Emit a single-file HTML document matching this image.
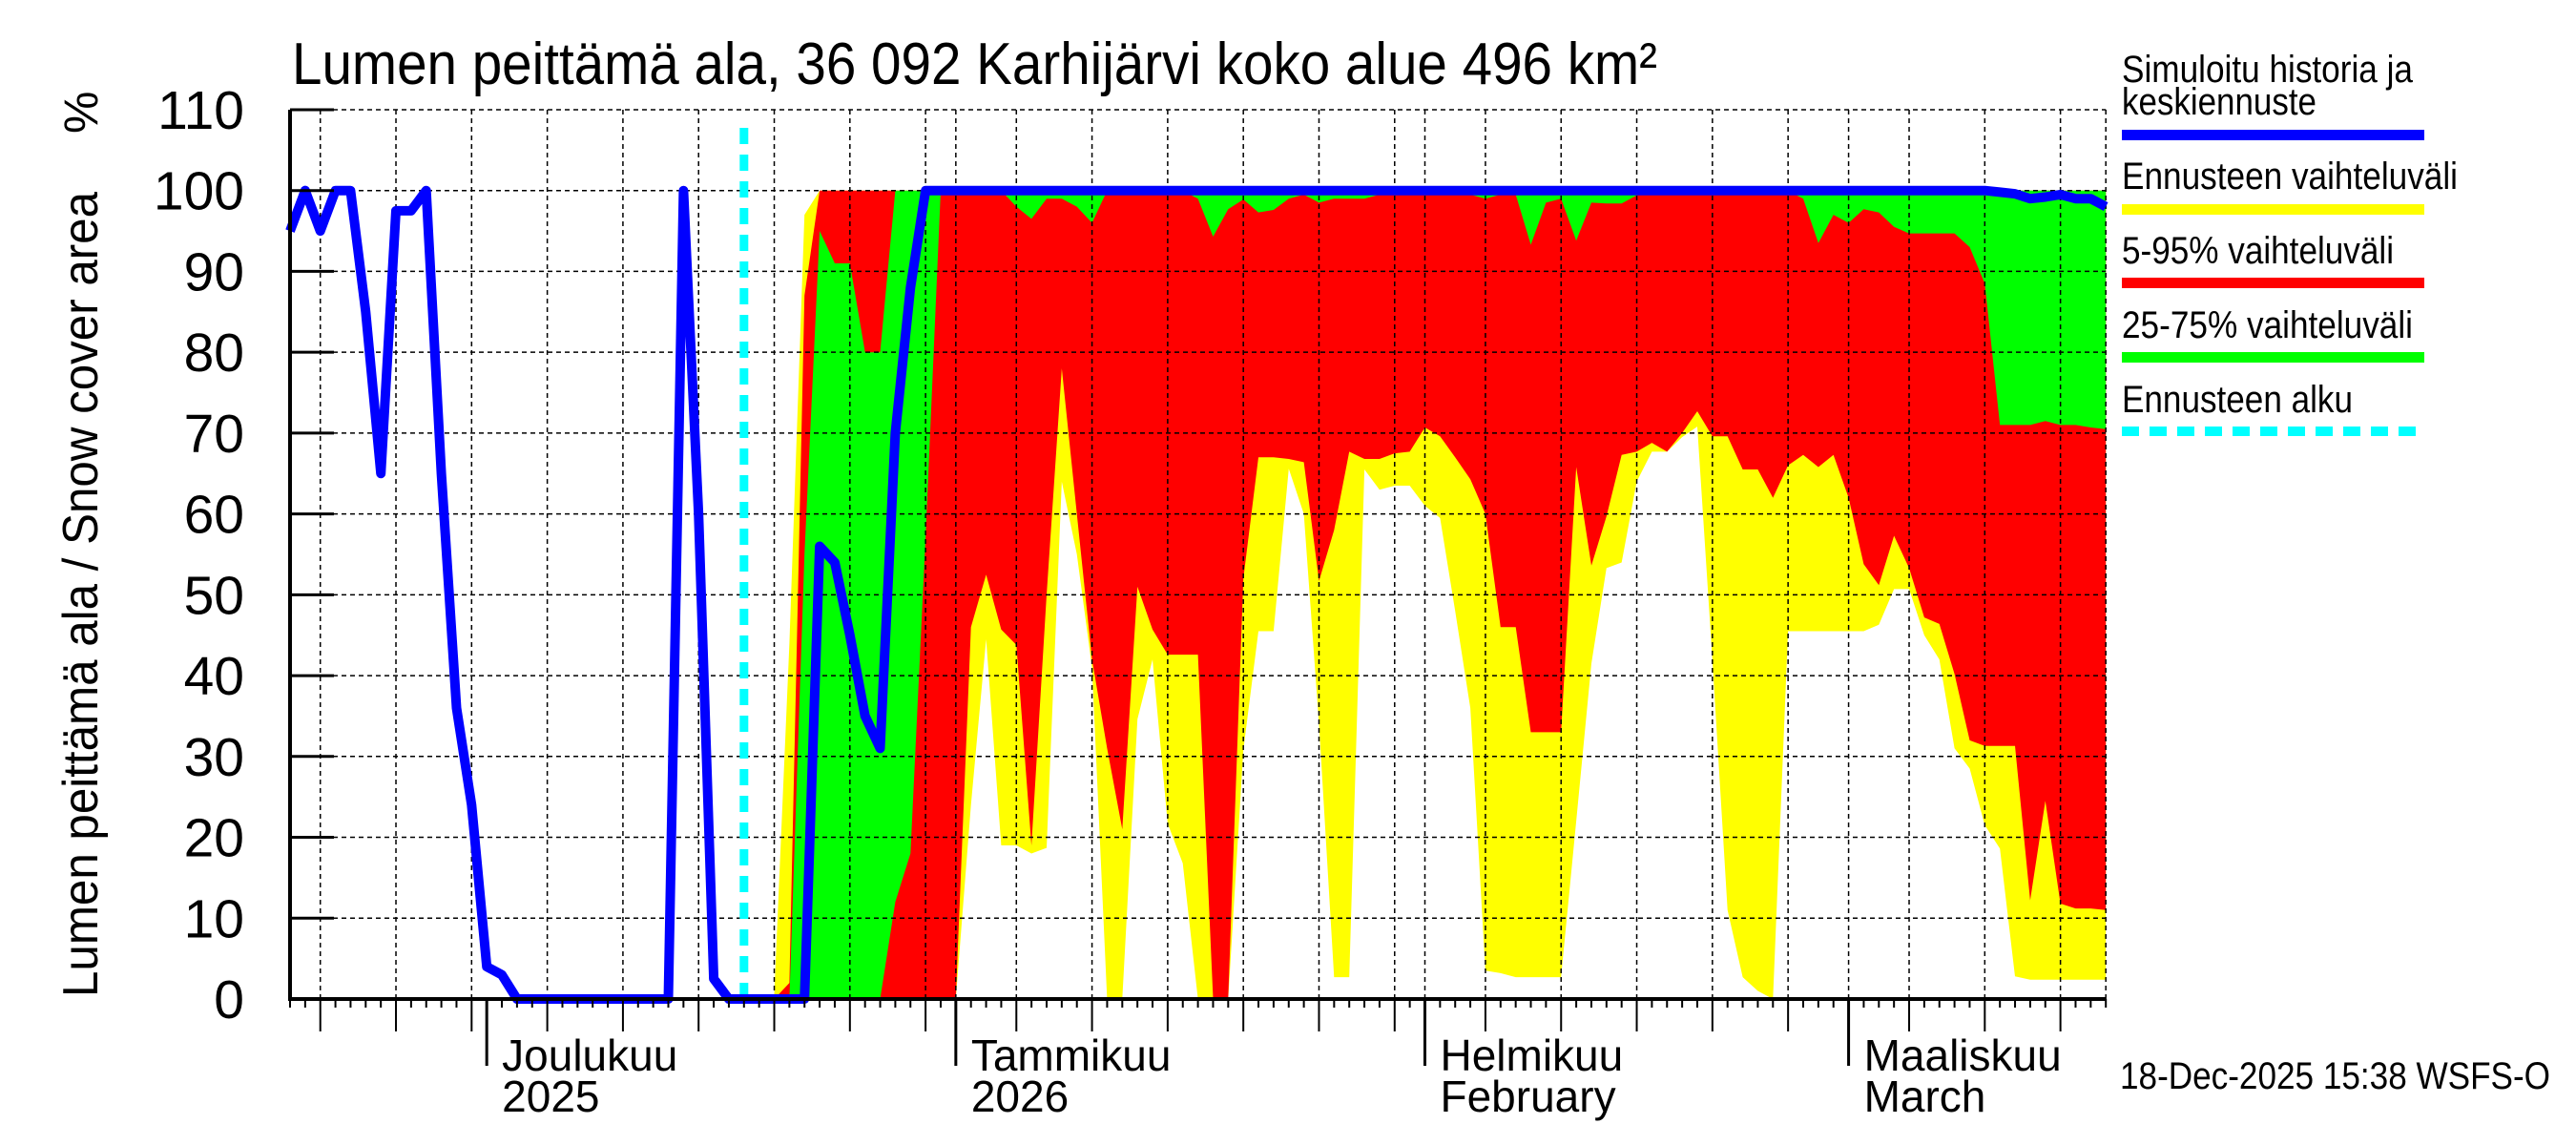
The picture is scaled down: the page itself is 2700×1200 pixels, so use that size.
<!DOCTYPE html>
<html><head><meta charset="utf-8"><style>
html,body{margin:0;padding:0;background:#fff;}
svg{display:block;font-family:"Liberation Sans",sans-serif;}
</style></head><body>
<svg id="chart" xmlns="http://www.w3.org/2000/svg" width="2700" height="1200" viewBox="0 0 2700 1200">
<rect x="0" y="0" width="2700" height="1200" fill="#fff"/>
<text x="306" y="88" font-size="62" textLength="1431" lengthAdjust="spacingAndGlyphs">Lumen peittämä ala, 36 092 Karhijärvi koko alue 496 km²</text>
<text transform="translate(102,1045) rotate(-90)" font-size="52" textLength="844" lengthAdjust="spacingAndGlyphs">Lumen peittämä ala / Snow cover area</text>
<text transform="translate(102,140) rotate(-90)" font-size="50">%</text>
<g id="fills"></g><g id="grid"></g><g id="lines"></g><g id="axes"></g>
<g>
<text x="2224" y="86" font-size="40" textLength="305" lengthAdjust="spacingAndGlyphs">Simuloitu historia ja</text>
<text x="2224" y="120" font-size="40" textLength="204" lengthAdjust="spacingAndGlyphs">keskiennuste</text>
<rect x="2224" y="136" width="317" height="11" fill="#0000ff"/>
<text x="2224" y="198" font-size="40" textLength="352" lengthAdjust="spacingAndGlyphs">Ennusteen vaihteluväli</text>
<rect x="2224" y="214" width="317" height="11" fill="#ffff00"/>
<text x="2224" y="276" font-size="40" textLength="285" lengthAdjust="spacingAndGlyphs">5-95% vaihteluväli</text>
<rect x="2224" y="291" width="317" height="11" fill="#ff0000"/>
<text x="2224" y="354" font-size="40" textLength="305" lengthAdjust="spacingAndGlyphs">25-75% vaihteluväli</text>
<rect x="2224" y="369" width="317" height="11" fill="#00ff00"/>
<text x="2224" y="432" font-size="40" textLength="242" lengthAdjust="spacingAndGlyphs">Ennusteen alku</text>
<line x1="2224" y1="452" x2="2541" y2="452" stroke="#00ffff" stroke-width="10" stroke-dasharray="18,11"/>
</g>
<text x="2222" y="1141" font-size="40" textLength="451" lengthAdjust="spacingAndGlyphs">18-Dec-2025 15:38 WSFS-O</text>
</svg>
<script>
const histValues = [95,100,95,100,100,85,65,97.5,97.5,100,65,36,24,4,3,0,0,0,0,0,0,0,0,0,0,0,100,60,2.5,0];
const fcStartDay = 30;
const yellowLo = [0,0,0,0,0,0,0,0,0,0,0,0,0,0,0,24,44.5,19,19,18,18.7,64,55,41,0,0,34.6,42,21.7,16.8,0,0,0,30.8,45.5,45.5,65.6,60,34,2.7,2.7,65.5,63,63.5,63.5,61,59.5,48,36,3.5,3.2,2.7,2.7,2.7,2.7,22,41.5,53.3,54,64,67.7,67.7,69.5,70.8,42,11,2.7,1,0,45.5,45.5,45.5,45.5,45.5,45.5,46.3,50.7,50.7,45,42,31,28.5,21.5,18.6,2.8,2.4,2.4,2.4,2.4,2.4,2.4];
const yellowHi = [0,0,0.5,44,97,100,100,100,100,100,100,100,100,100,100,100,100,100,100,100,100,100,100,100,100,100,100,100,100,100,100,100,100,100,100,100,100,100,100,100,100,100,100,100,100,100,100,100,100,100,100,100,100,100,100,100,100,100,100,100,100,100,100,100,100,100,100,100,100,100,100,100,100,100,100,100,100,100,100,100,100,100,100,100,100,100,100,100,100,100,100];
const redLo = [0,0,0,0,0,0,0,0,0,0,0,0,0,0,0,46,52.5,45.7,43.8,19,50,78,60,42,31,21,51,45.7,42.6,42.6,42.6,0,0,52,67,67,66.8,66.4,51.7,58,67.7,66.8,66.8,67.5,67.7,70.7,69.6,67,64.3,60,46,46,33,33,33,65.8,53.6,59.7,67.3,67.7,68.8,67.7,70,72.7,69.6,69.6,65.5,65.5,62,66,67.3,65.8,67.3,62,53.8,51.2,57.3,53.3,47.2,46.4,40.2,32,31.3,31.3,31.3,12.2,24.5,11.8,11.2,11.2,11];
const redHi = [0,0,0,2,87,100,100,100,100,100,100,100,100,100,100,100,100,100,100,100,100,100,100,100,100,100,100,100,100,100,100,100,100,100,100,100,100,100,100,100,100,100,100,100,100,100,100,100,100,100,100,100,100,100,100,100,100,100,100,100,100,100,100,100,100,100,100,100,100,100,100,100,100,100,100,100,100,100,100,100,100,100,100,100,100,100,100,100,100,100,100];
const greenLo = [0,0,0,0,0,0,0,0,0,0,12,18,57,100,100,100,100,100,98,96.5,99,99,98,96,100,100,100,100,100,100,99,94.3,97.7,98.9,97.3,97.6,99,99.5,98.5,99,99,99,99.5,99.5,99.5,100,100,100,99.5,99,99.5,99.5,93.3,98.5,99,93.8,98.5,98.4,98.4,99.4,100,100,100,100,100,100,100,100,100,100,99,93.5,97,96,97.7,97.3,95.5,94.7,94.7,94.7,94.7,93,88.5,71,71,71,71.5,71,71,70.7,70.5];
const greenHi = [0,0,0,0,55,95,91,91,80,80,100,100,100,100,100,100,100,100,100,100,100,100,100,100,100,100,100,100,100,100,100,100,100,100,100,100,100,100,100,100,100,100,100,100,100,100,100,100,100,100,100,100,100,100,100,100,100,100,100,100,100,100,100,100,100,100,100,100,100,100,100,100,100,100,100,100,100,100,100,100,100,100,100,100,100,100,100,100,100,100,100];
const medianValues = [0,0,0,0,0,56,54,45,35,31,70,88,100,100,100,100,100,100,100,100,100,100,100,100,100,100,100,100,100,100,100,100,100,100,100,100,100,100,100,100,100,100,100,100,100,100,100,100,100,100,100,100,100,100,100,100,100,100,100,100,100,100,100,100,100,100,100,100,100,100,100,100,100,100,100,100,100,100,100,100,100,100,100,99.8,99.6,99,99.2,99.5,99,99,98];
const yTicks = [0,10,20,30,40,50,60,70,80,90,100,110];
const monthLabels = [["Joulukuu","2025"],["Tammikuu","2026"],["Helmikuu","February"],["Maaliskuu","March"]];
const monthStartDays = [13,44,75,103];
const totalDays = 120;

const X0=304, DX=15.86, Y0=1047, DY=8.473;
function xs(d){return X0+d*DX;}
function ys(v){return Y0-v*DY;}
const NS="http://www.w3.org/2000/svg";
function mk(tag,parent,attrs){const e=document.createElementNS(NS,tag);for(const k in attrs)e.setAttribute(k,attrs[k]);parent.appendChild(e);return e;}
const fills=document.getElementById('fills'),grid=document.getElementById('grid'),lines=document.getElementById('lines'),axes=document.getElementById('axes');

function band(lo,hi,color,name){
  let pts=[];
  for(let i=0;i<hi.length;i++)pts.push(xs(fcStartDay+i).toFixed(1)+","+ys(hi[i]).toFixed(1));
  for(let i=lo.length-1;i>=0;i--)pts.push(xs(fcStartDay+i).toFixed(1)+","+ys(lo[i]).toFixed(1));
  const p=mk('polygon',fills,{points:pts.join(' '),fill:color});
  
  
}
band(yellowLo,yellowHi,'#ffff00','range-band');
band(redLo,redHi,'#ff0000','band-5-95');
band(greenLo,greenHi,'#00ff00','band-25-75');

yTicks.forEach(v=>{
  const g=mk('line',grid,{x1:X0,x2:xs(totalDays),y1:ys(v),y2:ys(v),stroke:'#000','stroke-width':1.5,'stroke-dasharray':'5,4'});
  
  
  const t=mk('line',axes,{x1:X0,x2:X0+46,y1:ys(v),y2:ys(v),stroke:'#000','stroke-width':3});
  
  
  const l=mk('text',axes,{x:256,y:ys(v)+20,'font-size':57,'text-anchor':'end'});
  l.textContent=v;
  
  
});
for(let d=0;d<=totalDays;d++){
  const dt=new Date(Date.UTC(2025,10,18+d));
  const dom=dt.getUTCDate();
  const isMonth=dom===1, isFive=dom%5===0;
  let len=9;
  if(isFive)len=34;
  if(isMonth)len=70;
  const tk=mk('line',axes,{x1:xs(d),x2:xs(d),y1:Y0,y2:Y0+len,stroke:'#000','stroke-width':(isMonth?3:2)});
  
  
  if((isFive&&dom<=30)||(isMonth&&d>40)){
    const g=mk('line',grid,{x1:xs(d),x2:xs(d),y1:ys(110),y2:Y0,stroke:'#000','stroke-width':1.5,'stroke-dasharray':'5,4'});
    
    
  }
}
const rb=mk('line',grid,{x1:xs(totalDays),x2:xs(totalDays),y1:ys(110),y2:Y0,stroke:'#000','stroke-width':1.5,'stroke-dasharray':'5,4'});


monthStartDays.forEach((d,i)=>{
  const a=mk('text',axes,{x:xs(d)+16,y:1122,'font-size':46});
  a.textContent=monthLabels[i][0];
  
  
  const b=mk('text',axes,{x:xs(d)+16,y:1165,'font-size':46});
  b.textContent=monthLabels[i][1];
  
  
});
const cy=mk('line',lines,{x1:xs(fcStartDay),x2:xs(fcStartDay),y1:ys(0),y2:ys(110)+10,stroke:'#00ffff','stroke-width':9,'stroke-dasharray':'17,11'});


let pts=[];
histValues.forEach((v,i)=>pts.push(xs(i).toFixed(1)+","+ys(v).toFixed(1)));
medianValues.forEach((v,i)=>pts.push(xs(fcStartDay+i).toFixed(1)+","+ys(v).toFixed(1)));
const bl=mk('polyline',lines,{points:pts.join(' '),fill:'none',stroke:'#0000ff','stroke-width':10,'stroke-linejoin':'round'});


const ax=mk('line',axes,{x1:X0,x2:X0,y1:ys(110),y2:Y0+2,stroke:'#000','stroke-width':4});


const bx=mk('line',axes,{x1:X0,x2:xs(totalDays),y1:Y0,y2:Y0,stroke:'#000','stroke-width':4});


</script>
</body></html>
